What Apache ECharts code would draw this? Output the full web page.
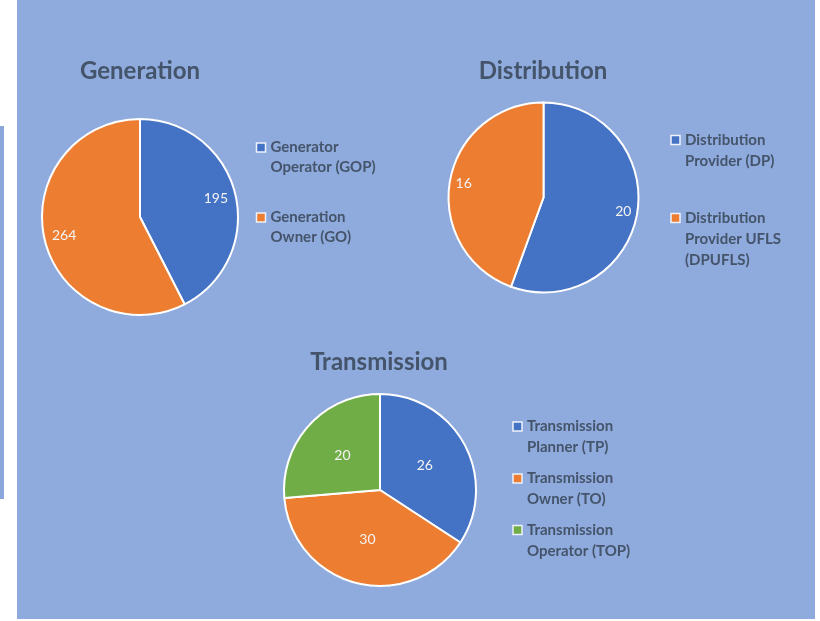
<!DOCTYPE html>
<html>
<head>
<meta charset="utf-8">
<script src="https://cdn.jsdelivr.net/npm/echarts@6/dist/echarts.min.js"></script>
<style>
html,body{margin:0;padding:0;background:#fff;}
#chart{width:820px;height:621px;}
</style>
</head>
<body>
<div id="chart"></div>
<script>
// ---- data ----
const genTitle = 'Generation';
const genNames = ['Generator\nOperator (GOP)', 'Generation\nOwner (GO)'];
const genValues = [195, 264];

const distTitle = 'Distribution';
const distNames = ['Distribution\nProvider (DP)', 'Distribution\nProvider UFLS\n(DPUFLS)'];
const distValues = [20, 16];

const transTitle = 'Transmission';
const transNames = ['Transmission\nPlanner (TP)', 'Transmission\nOwner (TO)', 'Transmission\nOperator (TOP)'];
const transValues = [26, 30, 20];

// ---- style ----
const COLORS = ['#4472C4', '#ED7D31', '#70AD47'];
const BG = '#8FAADC';
const TEXT = '#44546A';
const FONT = 'Lato, "Open Sans", sans-serif';

function toData(names, values, transparent) {
  return names.map((n, i) => ({
    name: n, value: values[i],
    itemStyle: { color: transparent ? 'rgba(0,0,0,0)' : COLORS[i] }
  }));
}

function pieSeries(names, values, center, r, labelR0) {
  return [
    {
      type: 'pie', center: center, radius: [0, r], startAngle: 90, clockwise: true,
      silent: true, data: toData(names, values, false),
      itemStyle: { borderColor: '#FFFFFF', borderWidth: 2 },
      label: { show: false }, labelLine: { show: false },
      emphasis: { disabled: true }
    },
    {
      type: 'pie', center: center, radius: [labelR0, r], startAngle: 90, clockwise: true,
      silent: true, data: toData(names, values, true), z: 5,
      itemStyle: { borderWidth: 0 },
      label: { show: true, position: 'inside', formatter: '{c}', color: '#F4F4F4',
               fontFamily: FONT, fontSize: 14 },
      labelLine: { show: false },
      emphasis: { disabled: true }
    }
  ];
}

function legendGraphics(names, sqX, ys, lineH) {
  const els = [];
  names.forEach((n, i) => {
    els.push({
      type: 'rect', shape: { x: sqX, y: ys[i] - 4.5, width: 9, height: 9 },
      style: { fill: COLORS[i], stroke: '#EEF2FA', lineWidth: 1.5 }
    });
    els.push({
      type: 'text', x: sqX + 14, y: ys[i] - lineH / 2,
      style: { text: n, fill: TEXT, font: 'bold 15px ' + FONT, lineHeight: lineH,
               verticalAlign: 'top', align: 'left' }
    });
  });
  return els;
}

function titleGraphic(text, cx, cy) {
  return {
    type: 'text', x: cx, y: cy,
    style: { text: text, fill: TEXT, font: 'bold 24px ' + FONT, align: 'center', verticalAlign: 'middle' }
  };
}

const chart = echarts.init(document.getElementById('chart'), null, { renderer: 'canvas' });

const graphics = [
  { type: 'rect', z: -10, shape: { x: 17, y: 0, width: 798, height: 619 }, style: { fill: BG } },
  { type: 'rect', z: -10, shape: { x: 0, y: 126, width: 4, height: 373 }, style: { fill: '#8AA6DA' } },
  titleGraphic(genTitle, 140, 71),
  titleGraphic(distTitle, 543, 71),
  titleGraphic(transTitle, 379, 362)
].concat(
  legendGraphics(genNames, 256.5, [147.5, 217.5], 20),
  legendGraphics(distNames, 671, [140, 218], 21),
  legendGraphics(transNames, 513, [426.5, 478.5, 530], 21)
);

chart.setOption({
  backgroundColor: '#FFFFFF',
  animation: false,
  graphic: graphics,
  series: [].concat(
    pieSeries(genNames, genValues, [140, 217], 98, 52),
    pieSeries(distNames, distValues, [543.5, 197.5], 95, 61),
    pieSeries(transNames, transValues, [380, 490], 96, 0)
  )
});
</script>
</body>
</html>
